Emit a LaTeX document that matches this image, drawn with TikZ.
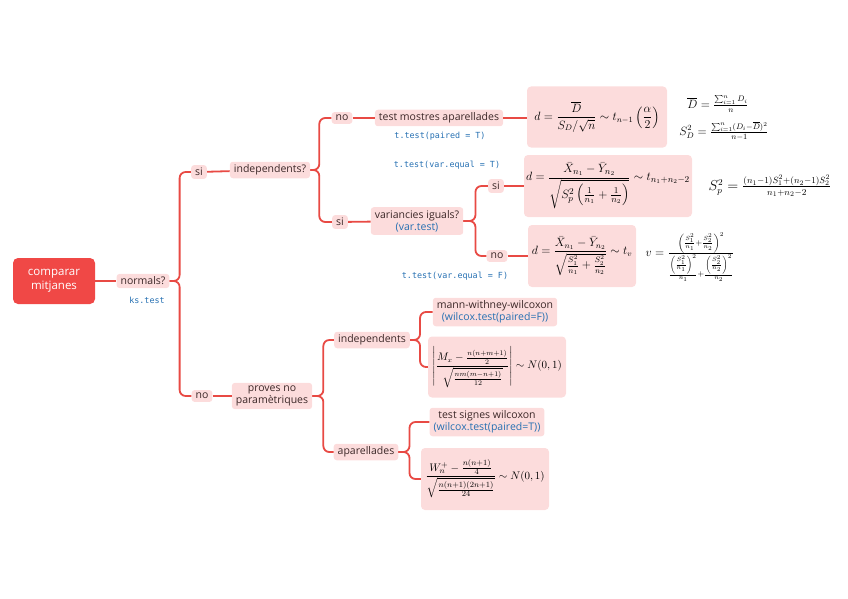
\documentclass[tikz,border=0pt]{standalone}
\usepackage{amsmath}
\usepackage{fontspec}
\setmainfont{Open Sans}
\setmonofont{DejaVu Sans Mono}
\definecolor{redc}{RGB}{232,74,68}
\definecolor{rootc}{RGB}{240,72,70}
\definecolor{pinkc}{RGB}{252,220,220}
\definecolor{bluec}{RGB}{38,112,178}
\definecolor{textc}{RGB}{60,40,40}
\tikzset{
  nd/.style={fill=pinkc, rounded corners=3pt, inner xsep=4pt, inner ysep=3pt, text=textc, font=\fontsize{10.5}{12}\selectfont, align=center},
  fbox/.style={fill=pinkc, rounded corners=4pt, inner sep=2pt, font=\fontsize{12}{14}\selectfont},
  conn/.style={draw=redc, line width=1.8pt, rounded corners=6pt},
  code/.style={text=bluec, font=\ttfamily\fontsize{8.4}{10}\selectfont},
  side/.style={font=\fontsize{12}{14}\selectfont, inner sep=0pt}
}
\begin{document}
\begin{tikzpicture}[x=1pt,y=-1pt]
\useasboundingbox (0,0) rectangle (848,599);
% root
\node[fill=rootc, rounded corners=5pt, text=white, minimum width=82pt, minimum height=46pt, align=center, font=\fontsize{11.5}{14}\selectfont] (root) at (54,281) {comparar\\mitjanes};
\node[nd] (normals) at (143,281) {normals?};
\node[code] (ks) at (147,300) {ks.test};
\node[nd] (si1) at (199,172) {si};
\node[nd] (no1) at (202,396) {no};
\node[nd] (ind) at (270,170) {independents?};
\node[nd] (no2) at (342,118) {no};
\node[nd] (tm) at (439,118) {test mostres aparellades};
\node[code] (tp) at (440,136) {t.test(paired = T)};
\node[fbox, minimum width=140pt, minimum height=61pt] (f1) at (597,117) {$\displaystyle d=\frac{\overline{D}}{S_D/\sqrt{n}}\sim t_{n-1}\left(\frac{\alpha}{2}\right)$};
\node[side] (dbar) at (718,104) {$\overline{D}=\frac{\sum_{i=1}^{n}D_i}{n}$};
\node[side] (sd) at (724,131) {$S_D^2=\frac{\sum_{i=1}^{n}(D_i-\overline{D})^2}{n-1}$};
\node[nd] (si2) at (340,222) {si};
\node[nd] (var) at (417,221) {variancies iguals?\\\textcolor{bluec}{(var.test)}};
\node[code] (tvt) at (447,165) {t.test(var.equal = T)};
\node[code] (tvf) at (455,276) {t.test(var.equal = F)};
\node[nd] (si3) at (496,186) {si};
\node[nd] (no3) at (497,256) {no};
\node[fbox, minimum width=168pt, minimum height=62pt, inner xsep=1pt, font=\fontsize{12.3}{14}\selectfont] (f2) at (608,186) {$\displaystyle d=\frac{\bar{X}_{n_1}-\bar{Y}_{n_2}}{\sqrt{S_p^2\left(\frac{1}{n_1}+\frac{1}{n_2}\right)}}\sim t_{n_1+n_2-2}$};
\node[side, font=\fontsize{13.5}{15}\selectfont] (sp) at (770,186) {$S_p^2=\frac{(n_1-1)S_1^2+(n_2-1)S_2^2}{n_1+n_2-2}$};
\node[fbox, minimum width=108pt, minimum height=62pt] (f3) at (582,256) {$\displaystyle d=\frac{\bar{X}_{n_1}-\bar{Y}_{n_2}}{\sqrt{\frac{S_1^2}{n_1}+\frac{S_2^2}{n_2}}}\sim t_v$};
\node[side] (nu) at (690,257) {$v=\frac{\left(\frac{S_1^2}{n_1}+\frac{S_2^2}{n_2}\right)^2}{\frac{\left(\frac{S_1^2}{n_1}\right)^2}{n_1}+\frac{\left(\frac{S_2^2}{n_2}\right)^2}{n_2}}$};
% lower half
\node[nd] (prov) at (272,396) {proves no\\param\`etriques};
\node[nd] (ind2) at (372,340) {independents};
\node[nd] (mann) at (495,312) {mann-withney-wilcoxon\\\textcolor{bluec}{(wilcox.test(paired=F))}};
\node[fbox, minimum width=138pt, minimum height=61pt, font=\fontsize{10.5}{12}\selectfont] (f4) at (497,367) {$\displaystyle \left|\frac{M_x-\frac{n(n+m+1)}{2}}{\sqrt{\frac{nm(m-n+1)}{12}}}\right|\sim N(0,1)$};
\node[nd] (apar) at (366,452) {aparellades};
\node[nd] (tsw) at (487,422) {test signes wilcoxon\\\textcolor{bluec}{(wilcox.test(paired=T))}};
\node[fbox, minimum width=128pt, minimum height=62pt, font=\fontsize{11}{13}\selectfont] (f5) at (485,479) {$\displaystyle \frac{W_n^+-\frac{n(n+1)}{4}}{\sqrt{\frac{n(n+1)(2n+1)}{24}}}\sim N(0,1)$};
% connectors
\draw[conn] (root) -- (normals);
\draw[conn] (normals.east) -- ++(10,0) |- (si1.west);
\draw[conn] (normals.east) -- ++(10,0) |- (no1.west);
\draw[conn] (si1) -- (ind);
\draw[conn] (ind.east) -- ++(9,0) |- (no2.west);
\draw[conn] (ind.east) -- ++(9,0) |- (si2.west);
\draw[conn] (no2) -- (tm);
\draw[conn] (tm.east) -- (f1.west |- tm.east);
\draw[conn] (si2) -- (var);
\draw[conn] (var.east) -- ++(12,0) |- (si3.west);
\draw[conn] (var.east) -- ++(12,0) |- (no3.west);
\draw[conn] (si3) -- (f2);
\draw[conn] (no3) -- (f3);
\draw[conn] (no1) -- (prov);
\draw[conn] (prov.east) -- ++(11,0) |- (ind2.west);
\draw[conn] (prov.east) -- ++(11,0) |- (apar.west);
\draw[conn] (ind2.east) -- ++(10,0) |- (mann.west);
\draw[conn] (ind2.east) -- ++(10,0) |- (f4.west);
\draw[conn] (apar.east) -- ++(11,0) |- (tsw.west);
\draw[conn] (apar.east) -- ++(11,0) |- (f5.west);
\end{tikzpicture}
\end{document}
